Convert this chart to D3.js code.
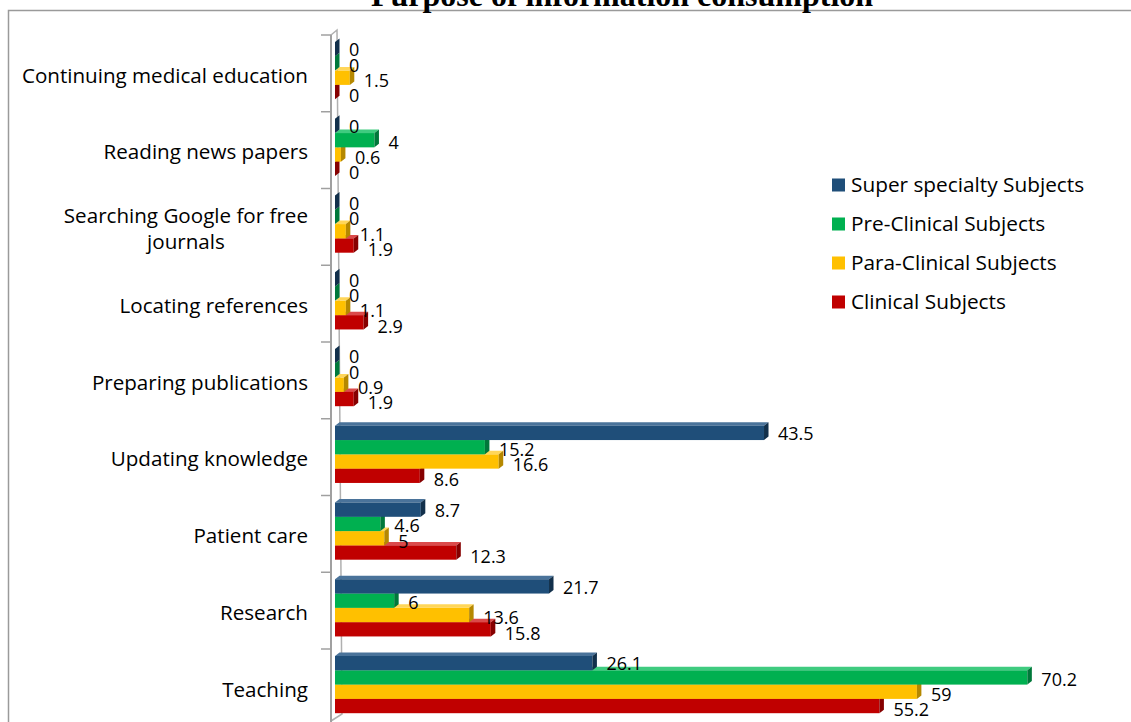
<!DOCTYPE html>
<html>
<head>
<meta charset="utf-8">
<script src="https://cdn.jsdelivr.net/npm/d3@7"></script>
<style>
  html, body { margin: 0; padding: 0; background: #fff; }
  svg { display: block; }
</style>
</head>
<body>
<svg id="chart" width="1131" height="722"></svg>
<script>
// Purposes, listed top to bottom
const categories = [
  "Continuing medical education",
  "Reading news papers",
  "Searching Google for free journals",
  "Locating references",
  "Preparing publications",
  "Updating knowledge",
  "Patient care",
  "Research",
  "Teaching"
];

const seriesNames = [
  "Super specialty Subjects",
  "Pre-Clinical Subjects",
  "Para-Clinical Subjects",
  "Clinical Subjects"
];

// Percentages per purpose, one array per subject group
const superSpecialty = [0, 0, 0, 0, 0, 43.5, 8.7, 21.7, 26.1];
const preClinical    = [0, 4, 0, 0, 0, 15.2, 4.6, 6, 70.2];
const paraClinical   = [1.5, 0.6, 1.1, 1.1, 0.9, 16.6, 5, 13.6, 59];
const clinical       = [0, 0, 1.9, 2.9, 1.9, 8.6, 12.3, 15.8, 55.2];

const seriesValues = [superSpecialty, preClinical, paraClinical, clinical];

// Label wrapping for the long category name
const categoryLines = {
  "Searching Google for free journals": ["Searching Google for free", "journals"]
};

const colors = {
  front: ["#1F4E79", "#00B050", "#FFC000", "#C00000"],
  side:  ["#12304b", "#00783a", "#b58800", "#860000"],
  top:   ["#4a739a", "#3fcb7f", "#ffd659", "#db4a4a"]
};

const svg = d3.select("#chart");
const W = 1131, H = 722;

// Outer frame and title
svg.append("rect")
  .attr("x", 8.5).attr("y", 10.5)
  .attr("width", W + 20).attr("height", H + 20)
  .attr("fill", "none").attr("stroke", "#9a9a9a").attr("stroke-width", 1.5);

svg.append("text")
  .attr("x", 622).attr("y", 5.5)
  .attr("text-anchor", "middle")
  .attr("font-family", "'Liberation Serif', 'Times New Roman', serif")
  .attr("font-weight", "bold")
  .attr("font-size", 32)
  .attr("fill", "#000")
  .text("Purpose of information consumption");

// Scales
const x = d3.scaleLinear().domain([0, 80]).range([335, 1124]);
const y = d3.scaleBand().domain(categories).range([35, 725.75]).padding(0);
const groupTop = 7, groupH = 57.2;
const yInner = d3.scaleBand().domain(d3.range(seriesNames.length)).range([groupTop, groupTop + groupH]);
const barH = yInner.bandwidth();
const dx = 4.5, dy = -3.5; // depth offset of the 3D faces

// Back wall edge and front axis
const axisG = svg.append("g");
axisG.append("path")
  .attr("d", `M331,35 L337,30 L342,714 L331,721`)
  .attr("fill", "none").attr("stroke", "#b0b0b0").attr("stroke-width", 1.5);
axisG.append("line")
  .attr("x1", 331).attr("x2", 331).attr("y1", 35).attr("y2", 726)
  .attr("stroke", "#a0a0a0").attr("stroke-width", 2);

const tickYs = categories.map(c => y(c)).concat([y.range()[1]]);
axisG.selectAll("line.tick").data(tickYs).join("line")
  .attr("class", "tick")
  .attr("x1", 321).attr("x2", 331)
  .attr("y1", d => d).attr("y2", d => d)
  .attr("stroke", "#a0a0a0").attr("stroke-width", 1.5);

// Bars: drawn bottom series first so the upper bar hides the lower bar's top face
const bars = svg.append("g");
categories.forEach((cat, ci) => {
  const g = bars.append("g");
  for (let s = seriesNames.length - 1; s >= 0; s--) {
    const v = seriesValues[s][ci];
    const x0 = x(0), x1 = x(v);
    const y0 = y(cat) + yInner(s), y1 = y0 + barH;
    // top face
    g.append("path")
      .attr("d", `M${x0},${y0} L${x0 + dx},${y0 + dy} L${x1 + dx},${y0 + dy} L${x1},${y0} Z`)
      .attr("fill", colors.top[s]);
    // front face
    g.append("rect")
      .attr("x", x0).attr("y", y0)
      .attr("width", Math.max(0, x1 - x0)).attr("height", barH)
      .attr("fill", colors.front[s]);
    // right side face
    g.append("path")
      .attr("d", `M${x1},${y0} L${x1 + dx},${y0 + dy} L${x1 + dx},${y1 + dy} L${x1},${y1} Z`)
      .attr("fill", colors.side[s]);
  }
});

// Value labels
const labels = svg.append("g")
  .attr("font-family", "'Open Sans', 'Noto Sans', sans-serif")
  .attr("font-size", 18)
  .attr("fill", "#000");
categories.forEach((cat, ci) => {
  seriesValues.forEach((vals, s) => {
    const v = vals[ci];
    labels.append("text")
      .attr("x", x(v) + 14)
      .attr("y", y(cat) + yInner(s) + barH / 2 + 1 + s)
      .attr("dy", "0.35em")
      .text(v);
  });
});

// Category labels
const catG = svg.append("g")
  .attr("font-family", "'Open Sans', 'Noto Sans', sans-serif")
  .attr("font-size", 20.6)
  .attr("fill", "#000");
const labelRight = 308;
categories.forEach(cat => {
  const lines = categoryLines[cat] || [cat];
  const cy = y(cat) + y.bandwidth() / 2 + 2;
  const lh = 26;
  if (lines.length === 1) {
    catG.append("text")
      .attr("x", labelRight).attr("y", cy)
      .attr("dy", "0.35em")
      .attr("text-anchor", "end")
      .text(cat);
  } else {
    const t = catG.append("text").attr("text-anchor", "middle");
    lines.forEach((ln, i) => {
      t.append("tspan")
        .attr("y", cy + (i - (lines.length - 1) / 2) * lh)
        .attr("dy", "0.35em")
        .text(ln);
    });
    const w = d3.max(t.selectAll("tspan").nodes(), n => n.getComputedTextLength());
    t.selectAll("tspan").attr("x", labelRight - w / 2);
  }
});

// Legend
const legend = svg.append("g")
  .attr("font-family", "'Open Sans', 'Noto Sans', sans-serif")
  .attr("font-size", 20.8)
  .attr("fill", "#000");
seriesNames.forEach((name, s) => {
  const ly = 185 + s * 39;
  legend.append("rect")
    .attr("x", 832).attr("y", ly - 6.5)
    .attr("width", 13).attr("height", 13)
    .attr("fill", colors.front[s]);
  legend.append("text")
    .attr("x", 851).attr("y", ly)
    .attr("dy", "0.35em")
    .text(name);
});
</script>
</body>
</html>
